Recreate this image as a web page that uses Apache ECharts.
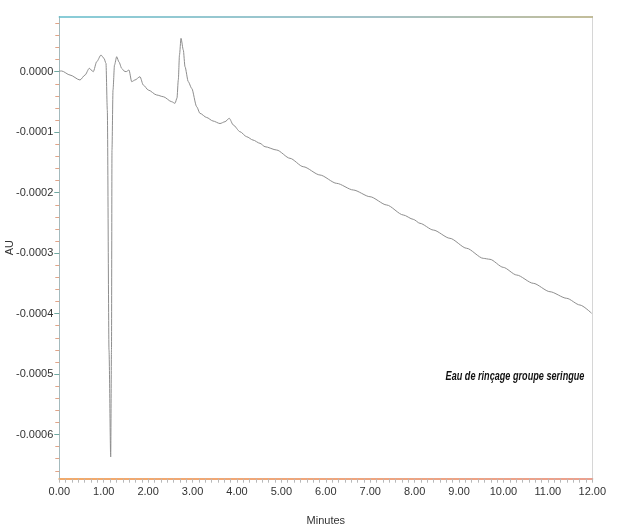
<!DOCTYPE html>
<html>
<head>
<meta charset="utf-8">
<script src="https://cdn.jsdelivr.net/npm/echarts@6/dist/echarts.min.js"></script>
<style>
  html, body { margin: 0; padding: 0; background: #ffffff; }
  #chart { width: 620px; height: 531px; }
</style>
</head>
<body>
<div id="chart"></div>
<script>
// Retention time (minutes) and absorbance (AU) of the chromatogram trace
const timeMin = [
  0.00, 0.054, 0.241, 0.466, 0.579, 0.675, 0.765, 0.842, 0.939, 1.006,
  1.051, 1.081, 1.119, 1.157, 1.175, 1.186, 1.209, 1.243, 1.292, 1.344,
  1.405, 1.457, 1.502, 1.569, 1.630, 1.704, 1.817, 1.891, 2.004, 2.193,
  2.341, 2.530, 2.605, 2.650, 2.679, 2.706, 2.740, 2.792, 2.830, 2.904,
  2.981, 3.093, 3.167, 3.318, 3.460, 3.618, 3.730, 3.827, 3.917, 4.068,
  4.219, 4.361, 4.518, 4.631, 4.894, 5.194, 5.493, 5.869, 6.245, 6.619,
  6.995, 7.371, 7.744, 7.969, 8.120, 8.420, 8.795, 9.171, 9.545, 9.696,
  9.995, 10.297, 10.671, 11.047, 11.423, 11.722, 11.985
];
const absorbanceAU = [
  0.0000010, 0.0000012, -0.0000055, -0.0000137, -0.0000055, 0.0000056, 0.0000000, 0.0000165, 0.0000276, 0.0000222,
  0.0000139, -0.0000633, -0.0004600, -0.0006370, -0.0004600, -0.0001300, -0.0000303, 0.0000111, 0.0000248, 0.0000160,
  0.0000056, 0.0000012, 0.0000000, 0.0000028, -0.0000165, -0.0000137, -0.0000083, -0.0000220, -0.0000303, -0.0000385,
  -0.0000413, -0.0000496, -0.0000523, -0.0000435, -0.0000137, 0.0000276, 0.0000552, 0.0000359, 0.0000083, -0.0000165,
  -0.0000275, -0.0000579, -0.0000688, -0.0000757, -0.0000815, -0.0000857, -0.0000827, -0.0000771, -0.0000881, -0.0000992,
  -0.0001075, -0.0001130, -0.0001184, -0.0001240, -0.0001295, -0.0001432, -0.0001571, -0.0001708, -0.0001846, -0.0001956,
  -0.0002067, -0.0002204, -0.0002369, -0.0002441, -0.0002507, -0.0002618, -0.0002755, -0.0002920, -0.0003086, -0.0003102,
  -0.0003235, -0.0003362, -0.0003499, -0.0003638, -0.0003747, -0.0003858, -0.0003995
];

// Axis ticks
const yLabelValues = [0, -0.0001, -0.0002, -0.0003, -0.0004, -0.0005, -0.0006];
const yMinorStep = 0.00002;
const yMinorRange = [-33, 4];   // minor tick indices, in steps of yMinorStep
const xTickInterval = 1;
const xMinorSplit = 7;

const sampleName = 'Eau de rinçage groupe seringue';

const FONT = '"Liberation Sans", Arial, sans-serif';

const yMinorValues = [];
for (let k = yMinorRange[0]; k <= yMinorRange[1]; k++) {
  yMinorValues.push(+(k * yMinorStep).toFixed(6));
}

const trace = timeMin.map((t, i) => [t, absorbanceAU[i]]);

const Y_MIN = -0.000673;
const Y_MAX = 0.0000913;

const chart = echarts.init(document.getElementById('chart'), null, { renderer: 'canvas' });

chart.setOption({
  backgroundColor: '#ffffff',
  animation: false,
  grid: { left: 59.3, right: 27.7, top: 16.5, bottom: 52.3, outerBoundsMode: 'none', containLabel: false },
  xAxis: [
    {
      type: 'value',
      position: 'bottom',
      min: 0,
      max: 12,
      interval: xTickInterval,
      name: 'Minutes',
      nameLocation: 'middle',
      nameGap: 37,
      nameTextStyle: { fontFamily: FONT, fontSize: 11, color: '#333' },
      axisLine: {
        show: true,
        onZero: false,
        lineStyle: {
          width: 2,
          color: new echarts.graphic.LinearGradient(0, 0, 1, 0, [
            { offset: 0, color: '#f2aa6a' },
            { offset: 1, color: '#eba08e' }
          ])
        }
      },
      axisTick: { show: true, length: 4, lineStyle: { color: '#b8b8b8' } },
      minorTick: { show: true, splitNumber: xMinorSplit, length: 4, lineStyle: { color: '#b8b8b8' } },
      axisLabel: {
        margin: 8,
        fontFamily: FONT,
        fontSize: 11,
        color: '#333',
        formatter: v => v.toFixed(2)
      },
      splitLine: { show: false }
    },
    {
      type: 'value',
      position: 'top',
      min: 0,
      max: 12,
      axisLine: {
        show: true,
        onZero: false,
        lineStyle: {
          width: 1.5,
          color: new echarts.graphic.LinearGradient(0, 0, 1, 0, [
            { offset: 0, color: '#62bccb' },
            { offset: 0.6, color: '#86aeb6' },
            { offset: 1, color: '#b0a878' }
          ])
        }
      },
      axisTick: { show: false },
      axisLabel: { show: false },
      splitLine: { show: false }
    }
  ],
  yAxis: [
    {
      type: 'value',
      position: 'left',
      min: Y_MIN,
      max: Y_MAX,
      name: 'AU',
      nameLocation: 'middle',
      nameGap: 44,
      nameTextStyle: { fontFamily: FONT, fontSize: 11, color: '#333' },
      axisLine: { show: true, onZero: false, lineStyle: { color: '#a4babd', width: 1 } },
      axisTick: { show: true, length: 4, customValues: yMinorValues, lineStyle: { color: '#e0a488' } },
      axisLabel: { show: false },
      splitLine: { show: false }
    },
    {
      type: 'value',
      position: 'left',
      min: Y_MIN,
      max: Y_MAX,
      axisLine: { show: false },
      axisTick: { show: true, length: 5, customValues: yLabelValues, lineStyle: { color: '#6fa9a2' } },
      axisLabel: {
        show: true,
        customValues: yLabelValues,
        margin: 6,
        fontFamily: FONT,
        fontSize: 11,
        color: '#333',
        formatter: v => v.toFixed(4)
      },
      splitLine: { show: false }
    },
    {
      type: 'value',
      position: 'right',
      min: Y_MIN,
      max: Y_MAX,
      axisLine: { show: true, onZero: false, lineStyle: { color: '#d6d6d6', width: 1 } },
      axisTick: { show: false },
      axisLabel: { show: false },
      splitLine: { show: false }
    }
  ],
  series: [
    {
      type: 'line',
      xAxisIndex: 0,
      yAxisIndex: 0,
      data: trace,
      showSymbol: false,
      smooth: 0.25,
      smoothMonotone: 'x',
      lineStyle: { color: '#8e8e8e', width: 1 },
      silent: true
    }
  ],
  graphic: [
    {
      type: 'text',
      x: 515,
      y: 377,
      scaleX: 0.76,
      style: {
        text: sampleName,
        align: 'center',
        verticalAlign: 'middle',
        font: 'italic bold 12px ' + FONT,
        fill: '#111'
      }
    }
  ]
});
</script>
</body>
</html>
